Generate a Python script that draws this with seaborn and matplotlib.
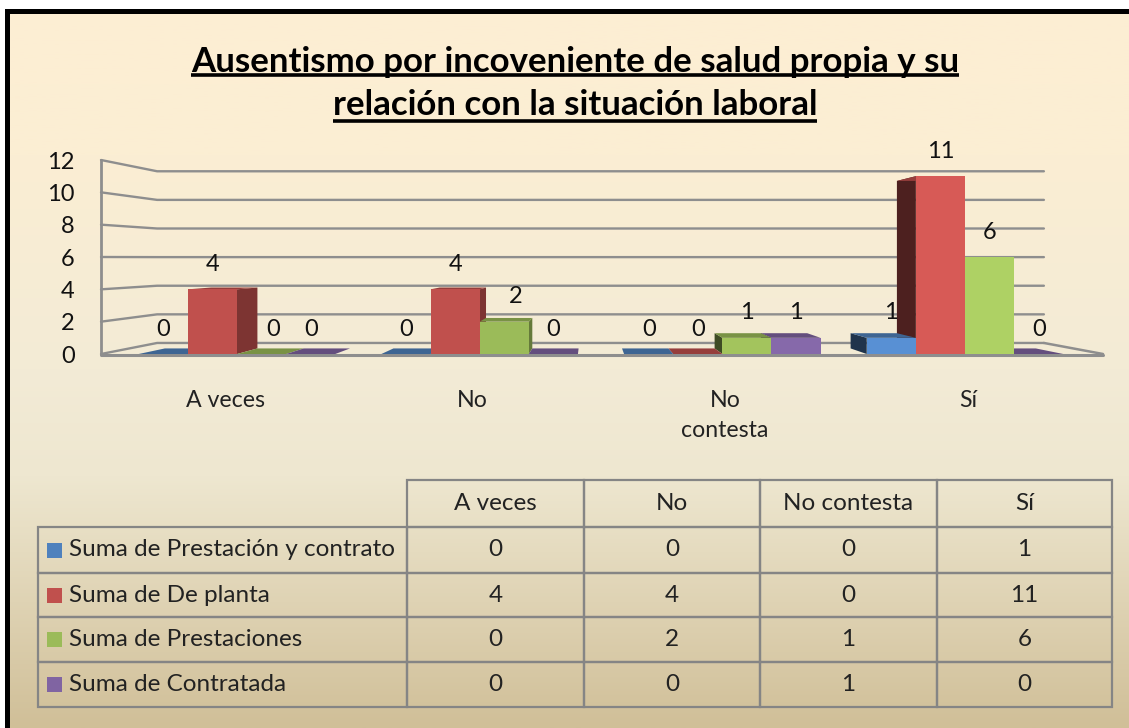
import pandas as pd
import matplotlib
matplotlib.use('Agg')
import matplotlib.pyplot as plt
import seaborn as sns
from matplotlib.colors import LinearSegmentedColormap, to_rgb
from matplotlib.patches import Polygon, Rectangle
import numpy as np

categories = ['A veces', 'No', 'No contesta', 'Sí']
tick_labels = ['A veces', 'No', 'No\ncontesta', 'Sí']
series = ['Suma de Prestación y contrato', 'Suma de De planta', 'Suma de Prestaciones', 'Suma de Contratada']
prestacion_contrato = [0, 0, 0, 1]
de_planta = [4, 4, 0, 11]
prestaciones = [0, 2, 1, 6]
contratada = [0, 0, 1, 0]
colors = ['#4F81BD', '#C0504D', '#9BBB59', '#8064A2']
title_lines = ['Ausentismo por incoveniente de salud propia y su', 'relación con la situación laboral']

W, H = 1129, 728
FONT = 'Lato'

sns.set_style('white')
plt.rcParams['font.family'] = [FONT, 'DejaVu Sans']

df = pd.DataFrame({
    'categoria': categories * 4,
    'serie': np.repeat(series, 4),
    'valor': prestacion_contrato + de_planta + prestaciones + contratada,
})

fig = plt.figure(figsize=(W / 100, H / 100), dpi=100, facecolor='white')

# background gradient with the black frame
bg = fig.add_axes([7 / W, 0, 1 - 7 / W, (H - 11) / H])
cmap = LinearSegmentedColormap.from_list('fondo', [(0, '#FDEED3'), (0.2, '#FBEED3'), (0.5, '#F3EBD6'),
                                                   (0.65, '#EEE7D0'), (1, '#D0BF98')])
bg.imshow(np.linspace(0, 1, 256).reshape(-1, 1), cmap=cmap, aspect='auto')
bg.set_xticks([])
bg.set_yticks([])
bg.spines['right'].set_visible(False)
bg.spines['bottom'].set_visible(False)
for s in ['left', 'top']:
    bg.spines[s].set_color('black')
    bg.spines[s].set_linewidth(3.6)

# chart axes, y=0 sits on the front edge of the floor
ax = fig.add_axes([101 / W, (H - 354) / H, 1002 / W, 194 / H])
sns.barplot(data=df, x='categoria', y='valor', hue='serie', order=categories, hue_order=series,
            palette=colors, saturation=1, width=0.81, gap=0, legend=False, linewidth=0, ax=ax)
ax.set_xlim((101 - 237) / 242.67, (1103 - 237) / 242.67)
ax.set_ylim(0, 12)
ax.patch.set_visible(False)
sns.despine(ax=ax, left=True, bottom=True, top=True, right=True)
ax.set_xlabel('')
ax.set_ylabel('')
ax.set_yticks(range(0, 13, 2))
# the labels do not sit quite under the groups in the original
ax.set_xticks([(px - 237) / 242.67 for px in (226, 472, 725, 968)])
ax.set_xticklabels(tick_labels, linespacing=1.5)
ax.tick_params(axis='y', length=0, pad=19, labelsize=17, labelcolor='#111111')
ax.tick_params(axis='x', length=0, pad=26, labelsize=16.7, labelcolor='#222222')

# vanishing point of the fake 3d box, in data units
VX = (589 - 237) / 242.67
VY = (354 - 258) / 16.17
WALL = 0.115
DEPTH = 0.058


def back(x, y, t):
    return x + t * (VX - x), y + t * (VY - y)


x_left, x_right = ax.get_xlim()
wall_color = '#8E8E8E'
for v in range(0, 13, 2):
    bl = back(x_left, v, WALL)
    br = back(x_right, v, WALL)
    ax.plot([x_left, bl[0], br[0]], [v, bl[1], br[1]], color=wall_color, lw=1.7, zorder=1, clip_on=False)
ax.plot([x_left, x_left], [0, 12], color=wall_color, lw=2, zorder=1, clip_on=False)
ax.plot([x_left, x_right], [-0.06, -0.06], color=wall_color, lw=2.2, zorder=1, clip_on=False)
br0 = back(x_right, 0, WALL)
ax.plot([br0[0], x_right], [br0[1], 0], color=wall_color, lw=1.8, zorder=1, clip_on=False)


def shade(color, f):
    return tuple(min(1, c * f) for c in to_rgb(color))


group_light = [1, 1, 1.05, 1.12]
for i, container in enumerate(ax.containers):
    base = colors[i]
    for j, bar in enumerate(container):
        x0, x1 = bar.get_x(), bar.get_x() + bar.get_width()
        h = bar.get_height()
        bar.set_facecolor(shade(base, group_light[j]))
        bar.set_edgecolor('none')
        z = 3 + (3 - abs((x0 + x1) / 2 - VX)) * 5
        bar.set_zorder(z + 0.2)
        if x1 < VX:
            edge, f = x1, 0.65
        else:
            edge, f = x0, 0.4
        b_low = back(edge, 0, DEPTH)
        b_up = back(edge, h, DEPTH)
        if h > 0:
            ax.add_patch(Polygon([(edge, 0), (edge, h), b_up, b_low], closed=True, facecolor=shade(base, f),
                                 edgecolor='none', zorder=z))
        tl = back(x0, h, DEPTH)
        tr = back(x1, h, DEPTH)
        ax.add_patch(Polygon([(x0, h), (x1, h), tr, tl], closed=True, facecolor=shade(base, 0.78),
                             edgecolor='none', zorder=z + 0.1))
        # green labels of the first two groups are pushed clear of the red side face
        nudge = 8 if i == 2 and j < 2 else 0
        ax.annotate(f'{h:.0f}', ((x0 + x1) / 2, h), xytext=(nudge, 18), textcoords='offset points',
                    ha='center', va='center', fontsize=17, color='#111111', zorder=50)

# overlay in figure fractions for title and table
top = fig.add_axes([0, 0, 1, 1])
top.set_xlim(0, W)
top.set_ylim(H, 0)
top.axis('off')

title_y = [62, 105]
under_y = [75, 121]
title_texts = []
for line, y in zip(title_lines, title_y):
    title_texts.append(top.text(575, y, line, ha='center', va='center', fontsize=25.1, fontweight='bold',
                                color='black'))
fig.canvas.draw()
rend = fig.canvas.get_renderer()
for t, y in zip(title_texts, under_y):
    ext = t.get_window_extent(rend)
    top.plot([ext.x0, ext.x1], [y, y], color='black', lw=2.6, solid_capstyle='butt')

col_edges = [38, 407, 584, 760, 937, 1112]
row_edges = [480, 527, 573, 617, 662, 707]
col_widths = [(b - a) / (col_edges[-1] - col_edges[0]) for a, b in zip(col_edges, col_edges[1:])]
rows = [prestacion_contrato, de_planta, prestaciones, contratada]
cell_text = [[''] + categories] + [[s] + [str(v) for v in r] for s, r in zip(series, rows)]
table = top.table(cellText=cell_text, colWidths=col_widths, cellLoc='center',
                  bbox=[38 / W, (H - 707) / H, (1112 - 38) / W, (707 - 480) / H])
table.auto_set_font_size(False)
table.set_fontsize(17.5)
for (r, c), cell in table.get_celld().items():
    cell.set_facecolor('none')
    cell.set_edgecolor('#858585')
    cell.set_linewidth(1.6)
    cell.set_height((row_edges[r + 1] - row_edges[r]) / H)
    cell.get_text().set_color('#222222')
    if c == 0:
        cell.get_text().set_ha('left')
        cell.PAD = 0.084
        if r == 0:
            cell.visible_edges = ''

for k, color in enumerate(colors):
    cy = (row_edges[k + 1] + row_edges[k + 2]) / 2
    top.add_patch(Rectangle((47, cy - 7.5), 15, 15, facecolor=color, edgecolor='none', zorder=5))

fig.savefig('out.png', dpi=100)
